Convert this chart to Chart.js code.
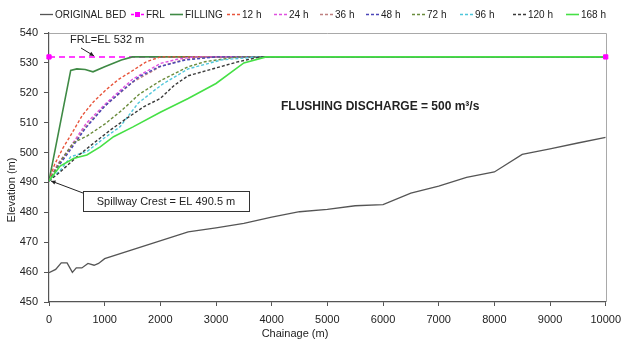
<!DOCTYPE html>
<html><head><meta charset="utf-8">
<script src="https://cdn.jsdelivr.net/npm/chart.js@4.4.1/dist/chart.umd.min.js"></script>
<style>html,body{margin:0;padding:0;background:#fff}#wrap{width:628px;height:348px}</style>
</head><body><div id="wrap"><canvas id="c" width="628" height="348"></canvas></div>
<script>
// ---------------- DATA ----------------
const seriesNames = ['ORIGINAL BED','FRL','FILLING','12 h','24 h','36 h','48 h','72 h','96 h','120 h','168 h'];
const xTicks = [0,1000,2000,3000,4000,5000,6000,7000,8000,9000,10000];
const yTicks = [450,460,470,480,490,500,510,520,530,540];

const bedX = [0,120,220,325,420,490,590,700,810,890,1000,2500,3000,3500,4000,4500,5000,5500,6000,6500,7000,7500,8000,8500,9000,9500,10000];
const bedY = [459.8,460.9,463.1,463.1,459.9,461.4,461.4,462.9,462.3,462.9,464.5,473.5,474.8,476.3,478.4,480.2,481.0,482.2,482.6,486.4,488.8,491.7,493.5,499.4,501.2,503.2,505.1];

const frlX = [0,10000];
const frlY = [532,532];

const fillX = [0,390,500,650,790,1000,1300,1500,10000];
const fillY = [490.5,527.5,528.0,527.8,527.0,528.7,531.0,532,532];

const h12X = [0,100,250,375,600,800,1025,1250,1450,1750,2000,10000];
const h12Y = [490.5,496,501.5,505.3,512.5,517,521,524.5,526.8,530.4,532,532];

const h24X = [0,150,350,670,1025,1500,2000,2300,2600,10000];
const h24Y = [490.5,496,501,509.8,516.5,524.5,529.8,531.2,532,532];

const h36X = [0,150,350,650,1000,1500,2000,2400,2800,10000];
const h36Y = [490.5,495.5,500.5,508.5,515.5,523.5,528.8,531,532,532];

const h48X = [0,150,350,650,1000,1300,1620,1975,2450,3000,10000];
const h48Y = [490.5,495,500,508,515.5,520.5,525.4,528.7,531,532,532];

const h72X = [0,200,440,680,1000,1300,1620,2000,2500,2800,3400,10000];
const h72Y = [490.5,497,503.3,505.5,509.5,514,519.5,524,528.7,530.4,532,532];

const h96X = [0,200,390,680,980,1275,1600,1870,2050,2500,3100,3750,10000];
const h96Y = [490.5,494,498.6,500.3,504.7,508.6,516.5,520.5,523,528,531,532,532];

const h120X = [0,200,500,800,1100,1400,1700,2000,2250,2500,3000,3400,3800,10000];
const h120Y = [490.5,493.5,498.6,503.1,507.5,511.5,515.3,518.1,522.5,525.7,528.3,530.4,532,532];

const h168X = [0,200,450,680,920,1160,1510,2000,2500,3000,3500,3900,10000];
const h168Y = [490.5,495.5,498.1,499.2,501.9,505.3,508.6,513.5,518.1,523.1,530,532,532];

// ---------------- BUILD ----------------
const pts = (xs, ys) => xs.map((x, i) => ({x, y: ys[i]}));
const FONT = '"Liberation Sans", Arial, Helvetica, sans-serif';
const DASH = [3, 2];

function lineDs(label, xs, ys, color, dash, width, order) {
  return { label, data: pts(xs, ys), borderColor: color, backgroundColor: color,
    borderDash: dash, borderWidth: width, pointRadius: 0, tension: 0, fill: false, order };
}

const datasets = [
  lineDs(seriesNames[0], bedX, bedY, '#555555', [], 1.3, 12),
  lineDs(seriesNames[1], frlX, frlY, '#ff00ff', [6, 4], 1.5, 11),
  lineDs(seriesNames[2], fillX, fillY, '#3f8a45', [], 1.6, 10),
  lineDs(seriesNames[3], h12X, h12Y, '#e8553c', DASH, 1.4, 9),
  lineDs(seriesNames[4], h24X, h24Y, '#e050e0', DASH, 1.4, 8),
  lineDs(seriesNames[5], h36X, h36Y, '#bf8080', DASH, 1.4, 7),
  lineDs(seriesNames[6], h48X, h48Y, '#4b46b8', DASH, 1.4, 6),
  lineDs(seriesNames[7], h72X, h72Y, '#6a8c3c', DASH, 1.4, 5),
  lineDs(seriesNames[8], h96X, h96Y, '#4ec6da', DASH, 1.4, 4),
  lineDs(seriesNames[9], h120X, h120Y, '#3a3a3a', DASH, 1.4, 3),
  lineDs(seriesNames[10], h168X, h168Y, '#46e046', [], 1.6, 2),
  { label: 'FRL markers', data: pts(frlX, frlY), showLine: false, pointStyle: 'rect',
    pointRadius: 3, pointBackgroundColor: '#ff00ff', pointBorderColor: '#ff00ff',
    borderColor: '#ff00ff', order: 1, clip: false }
];

const legendX = [40,131,170,227,274,320,366,412,460,513,566];

const decor = {
  id: 'decor',
  beforeDatasetsDraw(chart) {
    const ctx = chart.ctx, a = chart.chartArea;
    ctx.save();
    ctx.strokeStyle = '#a9a9a9'; ctx.lineWidth = 1;
    ctx.beginPath();
    ctx.moveTo(a.left, Math.round(a.top) + 0.5);
    ctx.lineTo(Math.round(a.right) + 0.5, Math.round(a.top) + 0.5);
    ctx.lineTo(Math.round(a.right) + 0.5, a.bottom);
    ctx.stroke();
    ctx.restore();
  },
  afterDraw(chart) {
    const ctx = chart.ctx, xs = chart.scales.x, ys = chart.scales.y;
    ctx.save();
    // legend
    ctx.font = '10px ' + FONT; ctx.textBaseline = 'middle'; ctx.textAlign = 'left';
    const ly = 14;
    for (let i = 0; i < seriesNames.length; i++) {
      const d = chart.data.datasets[i], x0 = legendX[i];
      ctx.strokeStyle = d.borderColor; ctx.lineWidth = d.borderWidth;
      ctx.setLineDash(i === 1 ? [3, 2] : d.borderDash);
      ctx.beginPath(); ctx.moveTo(x0, ly + 0.5); ctx.lineTo(x0 + 13, ly + 0.5); ctx.stroke();
      ctx.setLineDash([]);
      if (i === 1) { ctx.fillStyle = '#ff00ff'; ctx.fillRect(x0 + 4, ly - 2, 5, 5); }
      ctx.fillStyle = '#222';
      ctx.fillText(d.label, x0 + 15, ly + 1);
    }
    // axis titles
    ctx.font = '11px ' + FONT; ctx.fillStyle = '#222';
    ctx.textAlign = 'center';
    ctx.fillText('Chainage (m)', 295, 334);
    ctx.save(); ctx.translate(12, 190); ctx.rotate(-Math.PI / 2);
    ctx.fillText('Elevation (m)', 0, 0); ctx.restore();

    // arrow helper
    const arrow = (x1, y1, x2, y2) => {
      ctx.strokeStyle = '#222'; ctx.fillStyle = '#222'; ctx.lineWidth = 1;
      ctx.beginPath(); ctx.moveTo(x1, y1); ctx.lineTo(x2, y2); ctx.stroke();
      const ang = Math.atan2(y2 - y1, x2 - x1), L = 5;
      ctx.beginPath(); ctx.moveTo(x2, y2);
      ctx.lineTo(x2 - L * Math.cos(ang - 0.45), y2 - L * Math.sin(ang - 0.45));
      ctx.lineTo(x2 - L * Math.cos(ang + 0.45), y2 - L * Math.sin(ang + 0.45));
      ctx.closePath(); ctx.fill();
    };
    // FRL label
    ctx.font = '11px ' + FONT; ctx.textAlign = 'left';
    ctx.fillText('FRL=EL 532 m', 70, 40);
    arrow(81, 48, 94, ys.getPixelForValue(532) - 1);
    // Spillway crest box
    const bx = 83, by = 191, bw = 166, bh = 20;
    arrow(bx, by + 2, xs.getPixelForValue(0) + 2, ys.getPixelForValue(490.5));
    ctx.fillStyle = '#fff'; ctx.fillRect(bx, by, bw, bh);
    ctx.strokeStyle = '#333'; ctx.lineWidth = 1; ctx.strokeRect(bx + 0.5, by + 0.5, bw, bh);
    ctx.fillStyle = '#222'; ctx.textAlign = 'center';
    ctx.fillText('Spillway Crest = EL 490.5 m', bx + bw / 2, by + bh / 2 + 1);
    // Flushing discharge
    ctx.font = 'bold 12px ' + FONT; ctx.textAlign = 'left';
    ctx.fillText('FLUSHING DISCHARGE = 500 m\u00B3/s', 281, 107);
    ctx.restore();
  }
};

new Chart(document.getElementById('c'), {
  type: 'line',
  data: { datasets },
  options: {
    responsive: false, animation: false, devicePixelRatio: 1,
    layout: { padding: { top: 33, right: 17, left: 0, bottom: 0 } },
    plugins: { legend: { display: false }, tooltip: { enabled: false } },
    scales: {
      x: {
        type: 'linear', min: 0, max: 10000,
        afterBuildTicks: s => { s.ticks = xTicks.map(v => ({ value: v })); },
        afterFit: s => { s.height = 46; },
        grid: { drawOnChartArea: false, tickLength: 4, color: '#555' },
        border: { color: '#555', width: 1.2 },
        ticks: { padding: 7, color: '#222', font: { family: FONT, size: 11 }, maxRotation: 0,
                 callback: v => String(v) }
      },
      y: {
        type: 'linear', min: 450, max: 540,
        afterBuildTicks: s => { s.ticks = yTicks.map(v => ({ value: v })); },
        afterFit: s => { s.width = 49; },
        grid: { drawOnChartArea: false, tickLength: 5, color: '#555' },
        border: { color: '#555', width: 1.2 },
        ticks: { padding: 6, color: '#222', font: { family: FONT, size: 11 }, callback: v => String(v) }
      }
    }
  },
  plugins: [decor]
});
</script>
</body></html>
